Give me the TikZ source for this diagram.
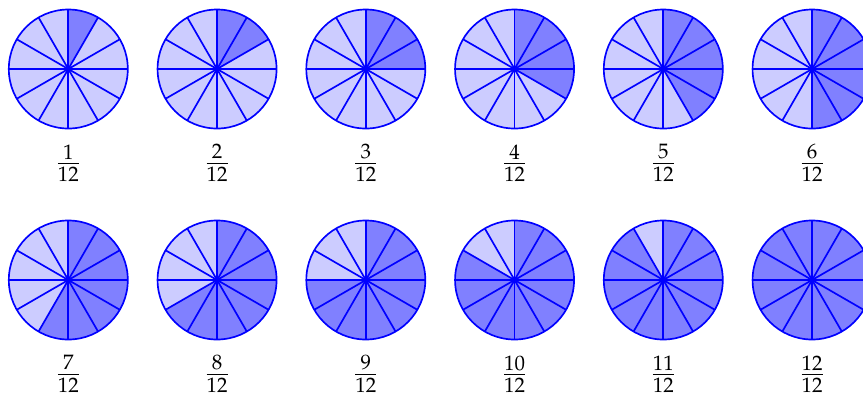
\documentclass[tikz,border=0pt]{standalone}
\usepackage{amsmath}
\usepackage{mathpazo}
\usepackage{tikz}
\definecolor{pielight}{RGB}{204,204,255}
\definecolor{piedark}{RGB}{128,128,255}

\begin{document}
\begin{tikzpicture}
    \useasboundingbox (-1.148,1.16) rectangle (13.356,-5.479);
    \foreach \k in {1,...,12} {
        % centre of the k-th pie
        \pgfmathsetmacro{\cx}{2.5*mod(\k-1,6)}
        \pgfmathsetmacro{\cy}{(\k>6)*(-3.546)}
        \coordinate (c\k) at (\cx,\cy);

        % sectors, clockwise from the top
        \foreach \i in {1,...,12} {
            \pgfmathsetmacro{\a}{90-30*(\i-1)}
            \ifnum\i>\k \def\piecol{pielight}\else\def\piecol{piedark}\fi
            \fill[\piecol] (c\k) -- ++(\a:1) arc[start angle=\a, delta angle=-30, radius=1] -- cycle;
        }

        % spokes and rim
        \foreach \a in {0,30,...,150}
            \draw[thick, blue] (c\k) ++(\a:1) -- ++(\a+180:2);
        \draw[thick, blue] (c\k) circle (1);

        \node[font=\Large, inner sep=0.5pt] (lab\k) at ([yshift=-1.58cm]c\k) {$\frac{\k}{12}$};
    }
\end{tikzpicture}
\end{document}
